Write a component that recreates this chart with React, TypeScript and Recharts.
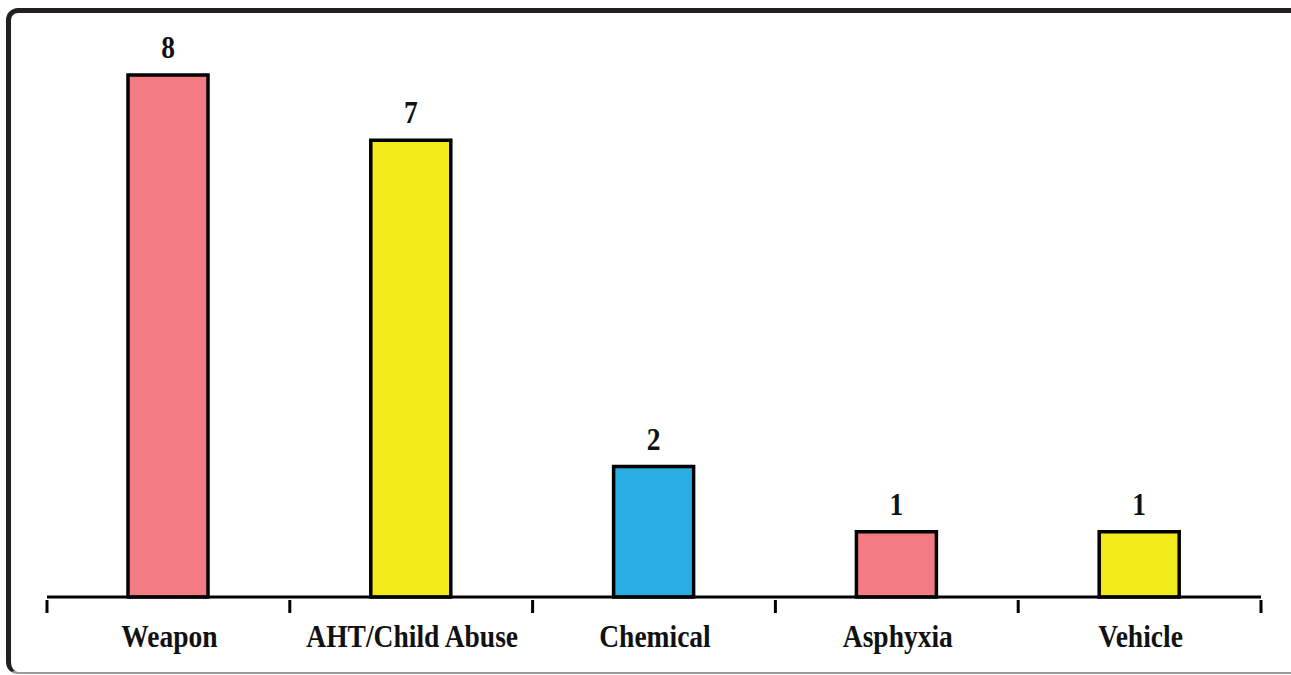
import { BarChart, Bar, XAxis, YAxis, Cell, LabelList } from "recharts";

const categories = ["Weapon", "AHT/Child Abuse", "Chemical", "Asphyxia", "Vehicle"];
const counts = [8, 7, 2, 1, 1];
const barColors = ["#f37b83", "#f2ea1b", "#29ade3", "#f37b83", "#f2ea1b"];

const data = categories.map((name, i) => ({ name, count: counts[i] }));

const FONT = "'Liberation Serif', 'Times New Roman', serif";
const W = 1291;
const H = 675;
const M = { top: 75, right: 30, left: 47, bottom: 28 };
const STEP = (W - M.left - M.right) / categories.length;

// labels + tick marks at the band edges (reference puts ticks between categories)
function CategoryTick({ x, y, payload, index }: any) {
  const axisY = y - 2;
  const last = index === categories.length - 1;
  return (
    <g>
      <line x1={x - STEP / 2} x2={x - STEP / 2} y1={axisY - 1} y2={axisY + 12} stroke="#000" strokeWidth={3} />
      {last && (
        <line x1={x + STEP / 2} x2={x + STEP / 2} y1={axisY - 1} y2={axisY + 12} stroke="#000" strokeWidth={3} />
      )}
      <g transform={`translate(${x + 1},${axisY + 46}) scale(0.86,1)`}>
        <text textAnchor="middle" fontFamily={FONT} fontWeight="bold" fontSize={32} fill="#111">
          {payload.value}
        </text>
      </g>
    </g>
  );
}

function ValueLabel({ x, y, width, value }: any) {
  return (
    <g transform={`translate(${x + width / 2},${y - 17}) scale(0.86,1)`}>
      <text textAnchor="middle" fontFamily={FONT} fontWeight="bold" fontSize={32} fill="#111">
        {value}
      </text>
    </g>
  );
}

export default function App() {
  return (
    <div
      style={{
        position: "absolute",
        left: 0,
        top: 0,
        width: W,
        height: H,
        overflow: "hidden",
        background: "#fff",
      }}
    >
      <div
        style={{
          position: "absolute",
          left: 6,
          top: 8,
          width: 1320,
          height: 666,
          border: "5px solid #231f20",
          borderBottom: "2px solid #9a9a9a",
          borderRadius: 12,
          boxSizing: "border-box",
        }}
      />
      <div style={{ position: "absolute", left: 0, top: 0 }}>
        <BarChart width={W} height={H} data={data} margin={M}>
          <YAxis hide domain={[0, 8]} />
          <XAxis
            dataKey="name"
            height={50}
            axisLine={{ stroke: "#000", strokeWidth: 3 }}
            tickLine={false}
            tickMargin={0}
            interval={0}
            tick={<CategoryTick />}
          />
          <Bar
            dataKey="count"
            barSize={80}
            stroke="#000"
            strokeWidth={3.5}
            isAnimationActive={false}
          >
            {data.map((d, i) => (
              <Cell key={d.name} fill={barColors[i]} />
            ))}
            <LabelList dataKey="count" content={<ValueLabel />} />
          </Bar>
        </BarChart>
      </div>
    </div>
  );
}
